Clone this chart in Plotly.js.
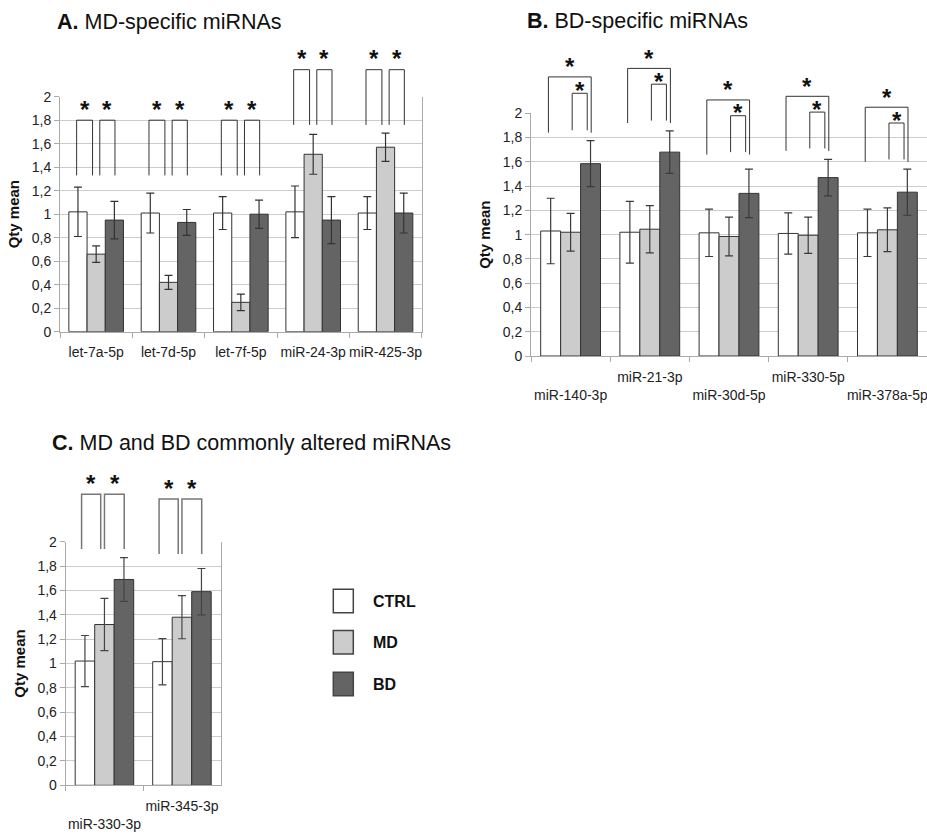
<!DOCTYPE html>
<html><head><meta charset="utf-8">
<script src="https://cdn.plot.ly/plotly-3.0.1.min.js"></script>
<style>html,body{margin:0;padding:0;background:#fff;} #chart{width:927px;height:835px;}</style>
</head><body><div id="chart"></div>
<script>
// ---------- data ----------
const groups = ['CTRL', 'MD', 'BD'];

// Panel A: MD-specific miRNAs
const aCats = ['let-7a-5p', 'let-7d-5p', 'let-7f-5p', 'miR-24-3p', 'miR-425-3p'];
const aCtrl = [1.02, 1.01, 1.01, 1.02, 1.01];
const aCtrlErr = [0.21, 0.17, 0.14, 0.22, 0.14];
const aMd = [0.66, 0.42, 0.25, 1.51, 1.57];
const aMdErr = [0.07, 0.06, 0.07, 0.17, 0.12];
const aBd = [0.95, 0.93, 1.00, 0.95, 1.01];
const aBdErr = [0.16, 0.11, 0.12, 0.20, 0.17];
const aBracketTop = [1.80, 1.80, 1.80, 2.23, 2.23];
const aBracketBase = [1.33, 1.33, 1.33, 1.76, 1.76];

// Panel B: BD-specific miRNAs
const bCats = ['miR-140-3p', 'miR-21-3p', 'miR-30d-5p', 'miR-330-5p', 'miR-378a-5p'];
const bCtrl = [1.03, 1.02, 1.015, 1.01, 1.015];
const bCtrlErr = [0.27, 0.255, 0.195, 0.17, 0.195];
const bMd = [1.02, 1.045, 0.985, 0.995, 1.04];
const bMdErr = [0.155, 0.195, 0.16, 0.15, 0.18];
const bBd = [1.585, 1.68, 1.34, 1.47, 1.35];
const bBdErr = [0.19, 0.175, 0.20, 0.15, 0.19];
const bOuterTop = [2.30, 2.37, 2.11, 2.14, 2.05];
const bInnerTop = [2.165, 2.24, 1.98, 2.01, 1.92];
const bBracketBase = [1.84, 1.92, 1.66, 1.69, 1.60];

// Panel C: MD and BD commonly altered miRNAs
const cCats = ['miR-330-3p', 'miR-345-3p'];
const cCtrl = [1.02, 1.015];
const cCtrlErr = [0.21, 0.19];
const cMd = [1.32, 1.38];
const cMdErr = [0.215, 0.177];
const cBd = [1.69, 1.59];
const cBdErr = [0.18, 0.19];
const cBracketTop = [2.39, 2.35];
const cBracketBase = [1.94, 1.90];

// ---------- layout geometry ----------
const W = 927, H = 835;
const FONT = 'Liberation Sans, Arial, Helvetica, sans-serif';
const fills = ['#ffffff', '#cccccc', '#646464'];
const px = v => v / W;
const py = v => 1 - v / H;

const panels = {
  A: {xd: [px(60), px(421.7)], yd: [py(331.7), py(96.7)], n: aCats.length},
  B: {xd: [px(531), 1], yd: [py(356), py(113.3)], n: bCats.length},
  C: {xd: [px(65.7), px(220.7)], yd: [py(785.3), py(541.7)], n: cCats.length}
};
function PX(p, pos) { return p.xd[0] + (pos + 0.5) / p.n * (p.xd[1] - p.xd[0]); }
function PY(p, v) { return p.yd[0] + v / 2 * (p.yd[1] - p.yd[0]); }

const traces = [];
function addBars(cats, vals, errs, xa, ya, ecol) {
  for (let g = 0; g < 3; g++) {
    traces.push({
      type: 'bar', name: groups[g], x: cats, y: vals[g], xaxis: xa, yaxis: ya,
      showlegend: false,
      marker: {color: fills[g], line: {color: '#333333', width: 1}},
      error_y: {type: 'data', array: errs[g], visible: true, color: ecol, thickness: 1.2, width: 4}
    });
  }
}
addBars(aCats, [aCtrl, aMd, aBd], [aCtrlErr, aMdErr, aBdErr], 'x', 'y', '#333');
addBars(bCats, [bCtrl, bMd, bBd], [bCtrlErr, bMdErr, bBdErr], 'x2', 'y2', '#3a3a3a');
addBars(cCats, [cCtrl, cMd, cBd], [cCtrlErr, cMdErr, cBdErr], 'x3', 'y3', '#444');

function xaxis(p, cats, labels, standoff) {
  return {
    domain: p.xd, type: 'category', range: [-0.5, cats.length - 0.5],
    tickmode: 'array', tickvals: cats, ticktext: labels, tickson: 'boundaries',
    ticks: 'outside', ticklen: 5, tickcolor: '#aaaaaa', showline: true, linecolor: '#aaaaaa',
    showgrid: false, zeroline: false, tickangle: 0, fixedrange: true,
    ticklabelstandoff: standoff,
    tickfont: {family: FONT, size: 14, color: '#222'}
  };
}
function yaxis(p) {
  return {
    domain: p.yd, range: [0, 2], tick0: 0, dtick: 0.2, showgrid: true, gridcolor: '#cccccc',
    ticks: 'outside', ticklen: 5, tickcolor: '#aaaaaa', showline: true, linecolor: '#aaaaaa',
    mirror: true, zeroline: false, fixedrange: true,
    tickfont: {family: FONT, size: 14, color: '#222'},
    title: {text: 'Qty mean', font: {family: FONT, size: 15, color: '#111', weight: 700}, standoff: 8}
  };
}
const stag = cats => cats.map((c, i) => (i % 2 === 0 ? '<br>' + c : c));

const shapes = [], annotations = [];
function bracket(p, cat, xa, xb, yb, yt, col, w) {
  const x0 = PX(p, cat + xa), x1 = PX(p, cat + xb);
  const y0 = PY(p, yb), y1 = PY(p, yt);
  shapes.push({type: 'path', xref: 'paper', yref: 'paper',
    path: `M ${x0} ${y0} L ${x0} ${y1} L ${x1} ${y1} L ${x1} ${y0}`,
    line: {color: col, width: w}});
}
function star(p, x, yv, shift) {
  annotations.push({xref: 'paper', yref: 'paper', x: PX(p, x), y: PY(p, yv), text: '*',
    showarrow: false, xanchor: 'center', yanchor: 'middle', yshift: shift,
    font: {family: FONT, size: 24, color: '#111', weight: 700}});
}

// Panel A brackets
aCats.forEach((c, i) => {
  const P = panels.A;
  bracket(P, i, -0.27, -0.05, aBracketBase[i], aBracketTop[i], '#333', 1);
  bracket(P, i, 0.05, 0.26, aBracketBase[i], aBracketTop[i], '#333', 1);
  star(P, i - 0.16, aBracketTop[i], 11);
  star(P, i + 0.155, aBracketTop[i], 11);
});
// Panel B brackets
bCats.forEach((c, i) => {
  const P = panels.B;
  bracket(P, i, -0.28, 0.26, bBracketBase[i], bOuterTop[i], '#333', 1);
  bracket(P, i, 0.02, 0.21, bBracketBase[i] + 0.02, bInnerTop[i], '#333', 1);
  star(P, i - 0.01, bOuterTop[i], 10);
  star(P, i + 0.115, bInnerTop[i], 3);
});
// Panel C brackets
cCats.forEach((c, i) => {
  const P = panels.C;
  bracket(P, i, -0.295, -0.048, cBracketBase[i], cBracketTop[i], '#777', 1.5);
  bracket(P, i, 0.0, 0.255, cBracketBase[i], cBracketTop[i], '#777', 1.5);
  star(P, i - 0.17, cBracketTop[i], 11);
  star(P, i + 0.13, cBracketTop[i], 11);
});

// Titles
function title(x, y, bold, rest) {
  annotations.push({xref: 'paper', yref: 'paper', x: px(x), y: py(y), xanchor: 'left', yanchor: 'middle',
    showarrow: false, text: '<b>' + bold + '</b> ' + rest,
    font: {family: FONT, size: 21.5, color: '#111'}});
}
title(55, 22, 'A.', 'MD-specific miRNAs');
title(525, 21, 'B.', 'BD-specific miRNAs');
title(50, 443, 'C.', 'MD and BD commonly altered miRNAs');

// Legend
const legY = [601, 642.3, 684];
groups.forEach((g, i) => {
  shapes.push({type: 'rect', xref: 'paper', yref: 'paper',
    x0: px(333.3), x1: px(353.3), y0: py(legY[i] + 11.7), y1: py(legY[i] - 11.7),
    fillcolor: fills[i], line: {color: '#444', width: 1.5}});
  annotations.push({xref: 'paper', yref: 'paper', x: px(371), y: py(legY[i]), xanchor: 'left', yanchor: 'middle',
    showarrow: false, text: g, font: {family: FONT, size: 16, color: '#111', weight: 700}});
});

const xa1 = xaxis(panels.A, aCats, aCats, 7); xa1.anchor = 'y';
const xa2 = xaxis(panels.B, bCats, stag(bCats), 8); xa2.anchor = 'y2';
const xa3 = xaxis(panels.C, cCats, stag(cCats), 8); xa3.anchor = 'y3';
const ya1 = yaxis(panels.A); ya1.anchor = 'x';
const ya2 = yaxis(panels.B); ya2.anchor = 'x2';
const ya3 = yaxis(panels.C); ya3.anchor = 'x3';

const layout = {
  width: W, height: H, margin: {l: 0, r: 0, t: 0, b: 0, pad: 0},
  paper_bgcolor: '#ffffff', plot_bgcolor: '#ffffff',
  font: {family: FONT, color: '#222'}, separators: ', ',
  barmode: 'group', bargap: 0.245, bargroupgap: 0, showlegend: false,
  xaxis: xa1, yaxis: ya1, xaxis2: xa2, yaxis2: ya2, xaxis3: xa3, yaxis3: ya3,
  shapes: shapes, annotations: annotations
};
Plotly.newPlot('chart', traces, layout, {displayModeBar: false, staticPlot: true});
</script></body></html>
